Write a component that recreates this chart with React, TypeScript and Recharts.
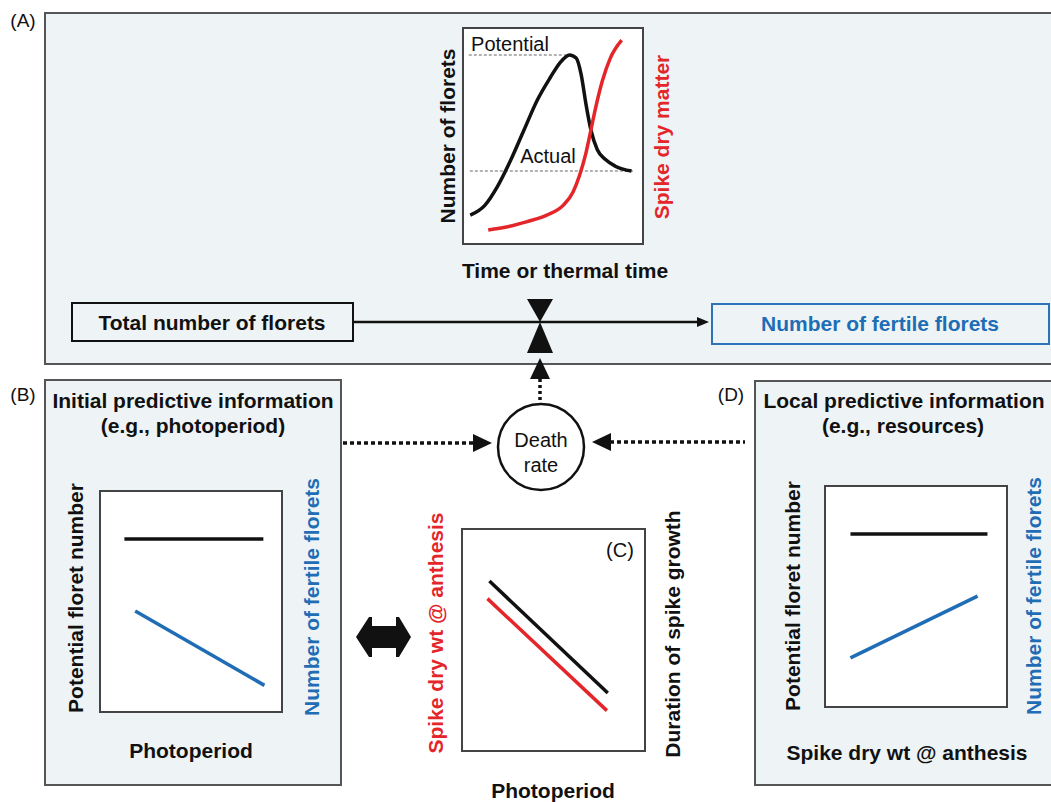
import { LineChart, Line, XAxis, YAxis } from "recharts";

// (A) florets and spike growth over thermal time (both axes 0-100, relative)
const floretTime = [3.5, 11.7, 19, 26.4, 33.7, 41, 48.4, 53.8, 59.3, 63, 65.8, 68.5, 71.3, 74.9, 79.5, 85, 94.1];
const floretCount = [13, 17.6, 26.7, 39, 52.8, 66.5, 77.2, 84.1, 87.9, 86.4, 78.8, 65, 52.8, 43.6, 39, 35.9, 33.6];
const spikeTime = [13.6, 24.5, 35.5, 46.5, 55.7, 61.2, 64.8, 68.5, 71.3, 74, 77.7, 82.2, 88.6];
const spikeMatter = [6.1, 7.6, 10, 13, 17.6, 23.7, 31.3, 42, 52.8, 63.4, 75.7, 86.4, 94.8];
const potentialSpan = [2.7, 59.3];
const potentialLevel = [87.9, 87.9];
const actualSpan = [3.3, 96];
const actualLevel = [33.6, 33.6];

// (B) photoperiod response
const bPotentialX = [13, 90.2];
const bPotentialY = [78.5, 78.5];
const bFertileX = [19, 90.8];
const bFertileY = [45.7, 11.7];

// (C) photoperiod vs spike growth
const cDurationX = [14.6, 80];
const cDurationY = [76.8, 25.9];
const cSpikeX = [13.5, 79.5];
const cSpikeY = [68.8, 17.9];

// (D) resources
const dPotentialX = [13.6, 89.7];
const dPotentialY = [78.5, 78.5];
const dFertileX = [13.6, 84.2];
const dFertileY = [22, 50.2];

const RED = "#e4262a";
const BLUE = "#1f6db5";
const PANEL = "#eef4f6";
const FONT = "'Liberation Sans', Arial, sans-serif";

const zip = (xs: number[], ys: number[]) => xs.map((x, i) => ({ x, y: ys[i] }));

type Series = { data: { x: number; y: number }[]; color: string; width?: number; dash?: string; curve?: boolean };

function MiniChart({ left, top, width, height, series }: { left: number; top: number; width: number; height: number; series: Series[] }) {
  return (
    <div style={{ position: "absolute", left, top, width, height, boxSizing: "border-box", border: "2px solid #444", background: "#fff" }}>
      <LineChart width={width - 4} height={height - 4} margin={{ top: 0, right: 0, bottom: 0, left: 0 }}>
        <XAxis type="number" dataKey="x" domain={[0, 100]} hide />
        <YAxis type="number" dataKey="y" domain={[0, 100]} hide />
        {series.map((s, i) => (
          <Line
            key={i}
            data={s.data}
            dataKey="y"
            type={s.curve ? "monotone" : "linear"}
            stroke={s.color}
            strokeWidth={s.width ?? 3.5}
            strokeDasharray={s.dash}
            dot={false}
            isAnimationActive={false}
          />
        ))}
      </LineChart>
    </div>
  );
}

function Txt({ x, y, children, size = 21, bold = true, color = "#111", rotate = false }: any) {
  return (
    <div
      style={{
        position: "absolute",
        left: x,
        top: y,
        transform: `translate(-50%, -50%)${rotate ? " rotate(-90deg)" : ""}`,
        whiteSpace: "nowrap",
        fontSize: size,
        fontWeight: bold ? 700 : 400,
        color,
        lineHeight: 1,
        textAlign: "center",
      }}
    >
      {children}
    </div>
  );
}

export default function App() {
  return (
    <div style={{ position: "absolute", left: 0, top: 0, width: 1051, height: 802, background: "#fff", overflow: "hidden", fontFamily: FONT }}>
      {/* panels */}
      <div style={{ position: "absolute", left: 44, top: 12, width: 1030, height: 353, boxSizing: "border-box", border: "2px solid #555", background: PANEL }} />
      <div style={{ position: "absolute", left: 44, top: 379, width: 298, height: 407, boxSizing: "border-box", border: "2px solid #555", background: PANEL }} />
      <div style={{ position: "absolute", left: 754, top: 380, width: 320, height: 406, boxSizing: "border-box", border: "2px solid #555", background: PANEL }} />

      <Txt x={23} y={20} size={19} bold={false}>(A)</Txt>
      <Txt x={23} y={394} size={19} bold={false}>(B)</Txt>
      <Txt x={731} y={394} size={19} bold={false}>(D)</Txt>

      {/* (A) time course */}
      <MiniChart
        left={462}
        top={27}
        width={182}
        height={218}
        series={[
          { data: zip(potentialSpan, potentialLevel), color: "#999", width: 1.5, dash: "3 2" },
          { data: zip(actualSpan, actualLevel), color: "#999", width: 1.5, dash: "3 2" },
          { data: zip(floretTime, floretCount), color: "#111", curve: true },
          { data: zip(spikeTime, spikeMatter), color: RED, curve: true },
        ]}
      />
      <Txt x={510} y={44} size={20} bold={false}>Potential</Txt>
      <Txt x={548} y={156} size={20} bold={false}>Actual</Txt>
      <Txt x={447} y={136} rotate>Number of florets</Txt>
      <Txt x={661} y={137} rotate color={RED}>Spike dry matter</Txt>
      <Txt x={565} y={270}>Time or thermal time</Txt>

      {/* flow boxes */}
      <div style={{ position: "absolute", left: 71, top: 302, width: 283, height: 40, boxSizing: "border-box", border: "2px solid #111", background: PANEL }} />
      <Txt x={212} y={322}>Total number of florets</Txt>
      <div style={{ position: "absolute", left: 711, top: 303, width: 339, height: 42, boxSizing: "border-box", border: "2.5px solid #2c73b8", background: PANEL }} />
      <Txt x={880} y={323} color={BLUE}>Number of fertile florets</Txt>

      <svg width={1051} height={802} style={{ position: "absolute", left: 0, top: 0 }}>
        <line x1={354} y1={322} x2={700} y2={322} stroke="#111" strokeWidth={2.5} />
        <polygon points="709,322 697,317 697,327" fill="#111" />
        <polygon points="527,299 553,299 540,322" fill="#111" />
        <polygon points="540,322 527,353 553,353" fill="#111" />
        <polygon points="540,358 530,379 550,379" fill="#111" />
        <line x1={540} y1={379} x2={540} y2={404} stroke="#111" strokeWidth={3.5} strokeDasharray="3 3" />
        <line x1={343} y1={443} x2={474} y2={443} stroke="#111" strokeWidth={3.5} strokeDasharray="4 3" />
        <polygon points="492,443 473,434 473,452" fill="#111" />
        <line x1={610} y1={442} x2={745} y2={442} stroke="#111" strokeWidth={3.5} strokeDasharray="4 3" />
        <polygon points="592,442 611,433 611,451" fill="#111" />
        <circle cx={541} cy={447} r={43} fill="#fff" stroke="#111" strokeWidth={2.5} />
        <polygon
          points="356,637 369,617 372,617 372,626 396,626 396,617 399,617 411,637 399,657 396,657 396,648 372,648 372,657 369,657"
          fill="#111"
        />
      </svg>
      <Txt x={541} y={440} size={20} bold={false}>Death</Txt>
      <Txt x={541} y={465} size={20} bold={false}>rate</Txt>

      {/* (B) */}
      <Txt x={193} y={400}>Initial predictive information</Txt>
      <Txt x={193} y={425}>(e.g., photoperiod)</Txt>
      <MiniChart
        left={99}
        top={490}
        width={184}
        height={223}
        series={[
          { data: zip(bPotentialX, bPotentialY), color: "#111" },
          { data: zip(bFertileX, bFertileY), color: BLUE },
        ]}
      />
      <Txt x={75} y={598} rotate>Potential floret number</Txt>
      <Txt x={311} y={597} rotate color={BLUE}>Number of fertile florets</Txt>
      <Txt x={191} y={750}>Photoperiod</Txt>

      {/* (C) */}
      <MiniChart
        left={461}
        top={528}
        width={185}
        height={224}
        series={[
          { data: zip(cDurationX, cDurationY), color: "#111" },
          { data: zip(cSpikeX, cSpikeY), color: RED },
        ]}
      />
      <Txt x={620} y={550} size={20} bold={false}>(C)</Txt>
      <Txt x={435} y={633} rotate color={RED}>Spike dry wt @ anthesis</Txt>
      <Txt x={672} y={634} rotate>Duration of spike growth</Txt>
      <Txt x={553} y={790}>Photoperiod</Txt>

      {/* (D) */}
      <Txt x={904} y={400}>Local predictive information</Txt>
      <Txt x={903} y={425}>(e.g., resources)</Txt>
      <MiniChart
        left={824}
        top={485}
        width={184}
        height={223}
        series={[
          { data: zip(dPotentialX, dPotentialY), color: "#111" },
          { data: zip(dFertileX, dFertileY), color: BLUE },
        ]}
      />
      <Txt x={792} y={596} rotate>Potential floret number</Txt>
      <Txt x={1033} y={596} rotate color={BLUE}>Number of fertile florets</Txt>
      <Txt x={907} y={752}>Spike dry wt @ anthesis</Txt>
    </div>
  );
}
